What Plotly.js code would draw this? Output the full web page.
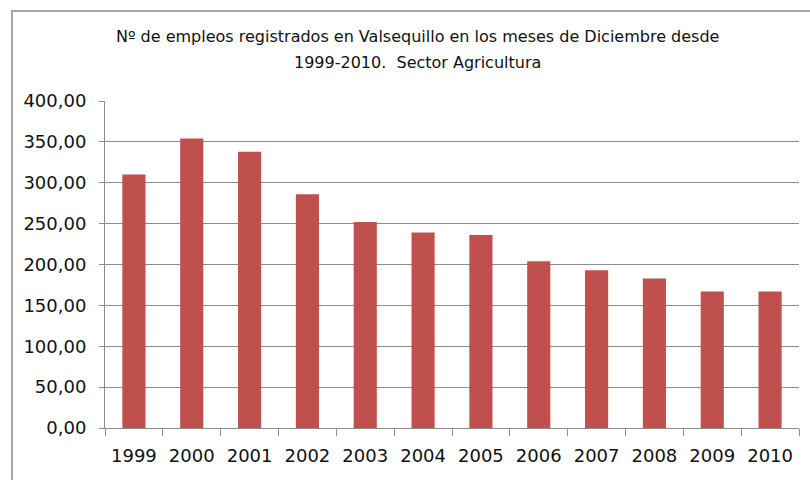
<!DOCTYPE html>
<html>
<head>
<meta charset="utf-8">
<script src="https://cdn.plot.ly/plotly-3.0.1.min.js"></script>
<style>html,body{margin:0;padding:0;background:#fff;}#chart{width:810px;height:480px;}</style>
</head>
<body>
<div id="chart"></div>
<script>
// Data
var years = ["1999","2000","2001","2002","2003","2004","2005","2006","2007","2008","2009","2010"];
var empleos = [310, 354, 338, 286, 252, 239, 236, 204, 193, 183, 167, 167];
var yTickVals = [0, 50, 100, 150, 200, 250, 300, 350, 400];
var yTickText = ["0,00","50,00","100,00","150,00","200,00","250,00","300,00","350,00","400,00"];
var titleLine1 = "Nº de empleos registrados en Valsequillo en los meses de Diciembre desde";
var titleLine2 = "1999-2010.  Sector Agricultura";

var trace = {
  type: "bar",
  x: years,
  y: empleos,
  marker: {color: "#C0504D", line: {width: 0}},
  hoverinfo: "x+y"
};

var layout = {
  width: 810,
  height: 480,
  margin: {l: 105, r: 11, t: 101, b: 52},
  paper_bgcolor: "#ffffff",
  plot_bgcolor: "#ffffff",
  showlegend: false,
  bargap: 0.6,
  font: {family: "DejaVu Sans, sans-serif", color: "#111111"},
  xaxis: {
    type: "category",
    showgrid: false,
    showline: true,
    linecolor: "#8c8c8c",
    linewidth: 1,
    ticks: "outside",
    tickson: "boundaries",
    ticklen: 7,
    tickcolor: "#8c8c8c",
    tickfont: {family: "DejaVu Sans, sans-serif", size: 18, color: "#111111"},
    ticklabelstandoff: 11,
    fixedrange: true
  },
  yaxis: {
    range: [0, 400],
    tickvals: yTickVals,
    ticktext: yTickText,
    showgrid: true,
    gridcolor: "#8c8c8c",
    gridwidth: 1,
    zeroline: false,
    showline: true,
    linecolor: "#8c8c8c",
    linewidth: 1,
    ticks: "outside",
    ticklen: 5,
    tickcolor: "#8c8c8c",
    tickfont: {family: "DejaVu Sans, sans-serif", size: 18, color: "#111111"},
    ticklabelstandoff: 9,
    fixedrange: true
  },
  shapes: [
    {type: "rect", xref: "paper", yref: "paper",
     x0: -93/694, x1: 725/694, y0: -80/327, y1: 417/327,
     line: {color: "#a6a6a6", width: 2}, fillcolor: "rgba(0,0,0,0)", layer: "below"}
  ],
  annotations: [
    {text: titleLine1, xref: "paper", yref: "paper", x: (417 - 105)/694, y: (428 - 37)/327,
     xanchor: "center", yanchor: "middle", showarrow: false,
     font: {family: "DejaVu Sans, sans-serif", size: 16, color: "#111111"}},
    {text: titleLine2, xref: "paper", yref: "paper", x: (417 - 105)/694, y: (428 - 63)/327,
     xanchor: "center", yanchor: "middle", showarrow: false,
     font: {family: "DejaVu Sans, sans-serif", size: 16, color: "#111111"}}
  ]
};

Plotly.newPlot("chart", [trace], layout, {displayModeBar: false, staticPlot: true});
</script>
</body>
</html>
